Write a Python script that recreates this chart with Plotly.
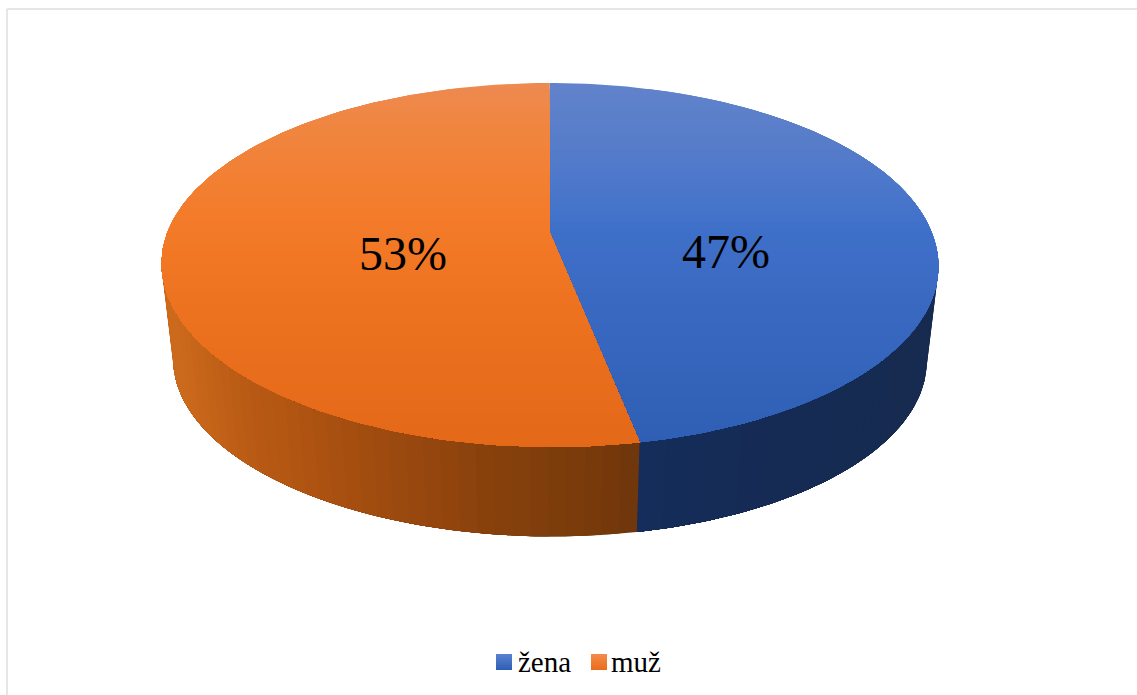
import math
import plotly.graph_objects as go

categories = ["žena", "muž"]
shares = [47, 53]

# colour stops: (pixel position, colour)
top_stops = [
    [(83, "#6283cc"), (130, "#5a7ec9"), (180, "#4d78cb"), (228, "#3f70c9"), (300, "#3a69c1"), (447, "#2e5fb4")],
    [(83, "#ee8a50"), (130, "#f0853f"), (180, "#f27f32"), (228, "#f37a28"), (300, "#ee7320"), (447, "#e36818")],
]
wall_stops = [
    [(637, "#142d5a"), (780, "#152b54"), (926, "#172b50")],
    [(173, "#cc6a1c"), (250, "#b85a14"), (350, "#a54e10"), (500, "#86400c"), (600, "#773a0b"), (640, "#6e350c")],
]

CX, CY_APEX, A, B, K = 549.5, 232.0, 382.0, -134.0, 0.181
BOTTOM_SCALE, WIDE_TOP, WIDE_BOTTOM = 0.97, 265.0, 360.0
LEAN = 0.0144


def top_point(a):
    u, v = math.sin(a), math.cos(a)
    d = 1 + K * v
    y = (B * v + CY_APEX) / d
    return CX + A * u / d + LEAN * max(0.0, y - CY_APEX), y


def bottom_point(a):
    x, y = top_point(a)
    return CX + BOTTOM_SCALE * (x - CX), WIDE_BOTTOM + BOTTOM_SCALE * (y - WIDE_TOP)


def hex_rgb(c):
    return [int(c[i:i + 2], 16) for i in (1, 3, 5)]


def color_at(stops, p):
    if p <= stops[0][0]:
        return stops[0][1]
    for (p0, c0), (p1, c1) in zip(stops, stops[1:]):
        if p <= p1:
            t = (p - p0) / (p1 - p0)
            rgb = [round(x + (y - x) * t) for x, y in zip(hex_rgb(c0), hex_rgb(c1))]
            return "#%02x%02x%02x" % tuple(rgb)
    return stops[-1][1]


def clip_below(pts, y0):
    out = []
    for (x1, y1), (x2, y2) in zip(pts, pts[1:] + pts[:1]):
        in1, in2 = y1 >= y0, y2 >= y0
        if in1:
            out.append((x1, y1))
        if in1 != in2:
            t = (y0 - y1) / (y2 - y1)
            out.append((x1 + (x2 - x1) * t, y0))
    return out


def poly(pts, color):
    xs = [p[0] for p in pts] + [pts[0][0]]
    ys = [p[1] for p in pts] + [pts[0][1]]
    return go.Scatter(x=xs, y=ys, mode="lines", fill="toself", fillcolor=color,
                      line=dict(color=color, width=0), hoverinfo="skip", showlegend=False)


fig = go.Figure()
total = sum(shares)
spans = []
start = 0.0
for s in shares:
    end = start + 2 * math.pi * s / total
    spans.append((start, end))
    start = end

# side wall: only the part facing the viewer, painted as overlapping pieces
front0, front1 = math.acos(-K), 2 * math.pi - math.acos(-K)
for i, (a0, a1) in enumerate(spans):
    lo, hi = max(a0, front0), min(a1, front1)
    n = 40
    for j in range(n):
        s0 = lo + (hi - lo) * j / n
        arc = [s0 + (hi - s0) * q / 80 for q in range(81)]
        pts = [top_point(q) for q in arc] + [bottom_point(q) for q in reversed(arc)]
        xm = top_point(s0 + (hi - lo) / n / 2)[0]
        fig.add_trace(poly(pts, color_at(wall_stops[i], xm)))

# top surface: vertical gradient painted as shrinking clipped sectors
for i, (a0, a1) in enumerate(spans):
    m = 160
    sector = [(CX, CY_APEX)] + [top_point(a0 + (a1 - a0) * j / m) for j in range(m + 1)]
    y = 83
    while y < 447:
        clipped = clip_below(sector, y)
        if len(clipped) > 2:
            fig.add_trace(poly(clipped, color_at(top_stops[i], y + 3)))
        y += 6

# percentage labels on the slices
for s, (x, y) in zip(shares, [(726, 251), (403, 253)]):
    fig.add_annotation(x=x, y=y, text=f"{s}%", showarrow=False,
                       font=dict(family="Liberation Serif", size=48, color="#000000"))

# legend: gradient swatch and name for each category
swatch_stops = [["#5a80cf", "#2f60b5"], ["#f58a4a", "#e96d1d"]]
for name, sx, tx, st in zip(categories, [496, 591], [516, 609], swatch_stops):
    for r in range(16):
        col = color_at([(0, st[0]), (15, st[1])], r)
        fig.add_shape(type="rect", x0=sx, x1=sx + 16, y0=654 + r, y1=655 + r,
                      fillcolor=col, line=dict(width=0))
    fig.add_annotation(x=tx, y=662, text=name, showarrow=False, xanchor="left",
                       font=dict(family="Liberation Serif", size=29, color="#000000"))

border = dict(color="#e4e7ea", width=2)
fig.add_shape(type="line", x0=7, x1=7, y0=9, y1=695, line=border)
fig.add_shape(type="line", x0=7, x1=1137, y0=9, y1=9, line=border)

fig.update_layout(
    width=1137, height=695, margin=dict(l=0, r=0, t=0, b=0),
    paper_bgcolor="white", plot_bgcolor="white", showlegend=False,
    xaxis=dict(range=[0, 1137], visible=False, fixedrange=True),
    yaxis=dict(range=[695, 0], visible=False, fixedrange=True),
)
fig.write_html("out.html", config={"displayModeBar": False},
               post_script="document.body.style.margin='0';document.body.style.overflow='hidden';")
